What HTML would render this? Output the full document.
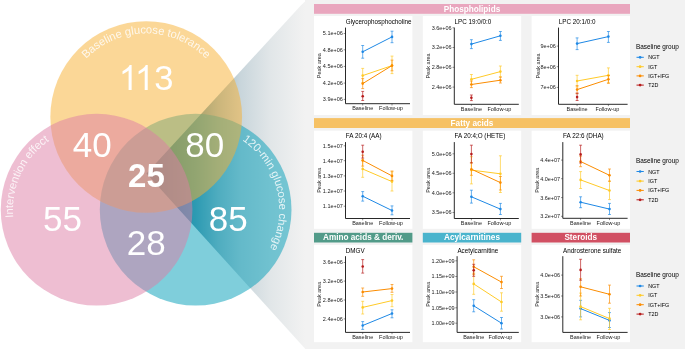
<!DOCTYPE html>
<html><head><meta charset="utf-8"><title>Figure</title>
<style>
html,body{margin:0;padding:0;background:#fff;}
body{width:685px;height:349px;overflow:hidden;}
svg{display:block;will-change:transform;transform:translateZ(0);}
text{font-family:"Liberation Sans",sans-serif;}
.tk{font-size:5.5px;fill:#1a1a1a;}
.tt{font-size:6.3px;fill:#000;}
.hd{font-size:8.2px;font-weight:bold;fill:#fff;text-anchor:middle;}
.lt{font-size:6.45px;fill:#000;}
.ll{font-size:5.4px;fill:#000;}
.vn{font-size:27px;fill:#fff;text-anchor:middle;}
.vl{font-size:11.2px;fill:#fff;fill-opacity:.82;}
</style></head><body>
<svg width="685" height="349" viewBox="0 0 685 349">
<defs>
<linearGradient id="cone" gradientUnits="userSpaceOnUse" x1="146.5" y1="0" x2="305" y2="0">
<stop offset="0" stop-color="#0a5572"/>
<stop offset="0.15" stop-color="#2a7590"/>
<stop offset="0.31" stop-color="#5a97ad"/>
<stop offset="0.45" stop-color="#9dbbc7"/>
<stop offset="0.59" stop-color="#c8d5db"/>
<stop offset="0.78" stop-color="#e1e6e8"/>
<stop offset="1" stop-color="#f2f2f2"/>
</linearGradient>
<path id="arcY" d="M 62.60 117.00 A 83.6 83.6 0 0 1 229.80 117.00"/>
<path id="arcP" d="M 61.27 285.42 A 83.6 83.6 0 0 1 131.93 133.88"/>
<path id="arcB" d="M 175.14 128.60 A 83.6 83.6 0 0 1 216.16 290.70"/>
</defs>

<path d="M 146.5 173.6 L 301.3 4.9 Q 304 2 307.5 0 L 307.5 349 L 305.4 349 Z" fill="url(#cone)"/>
<rect x="305" y="0" width="380" height="349" fill="#f2f2f2"/>
<circle cx="195.65" cy="209.65" r="95.85" fill="#009DB7" fill-opacity=".5"/>
<circle cx="146.2" cy="117" r="95.85" fill="#F7AF30" fill-opacity=".5"/>
<circle cx="96.6" cy="209.65" r="95.85" fill="#DD7DA5" fill-opacity=".5"/>
<path d="M763 0H583V1147Q518 1085 412.5 1023Q307 961 223 930V1104Q374 1175 487 1276Q600 1377 647 1472H763Z" fill="#fff" transform="translate(118.75 89.9) scale(0.01689 -0.01689)"/>
<path d="M763 0H583V1147Q518 1085 412.5 1023Q307 961 223 930V1104Q374 1175 487 1276Q600 1377 647 1472H763Z" fill="#fff" transform="translate(134.85 89.9) scale(0.01689 -0.01689)"/>
<text class="vn" x="154.2" y="89.9" style="font-size:34.6px;text-anchor:start">3</text>
<text class="vn" x="92.2" y="157.1" style="font-size:35px">40</text>
<text class="vn" x="204.7" y="157.1" style="font-size:35px">80</text>
<text class="vn" x="146.4" y="186.6" style="font-weight:bold;font-size:33px">25</text>
<text class="vn" x="62.4" y="230.6" style="font-size:35px">55</text>
<text class="vn" x="228.2" y="230.6" style="font-size:35px">85</text>
<text class="vn" x="146.2" y="254.5" style="font-size:35px">28</text>
<text class="vl"><textPath href="#arcY" startOffset="50%" text-anchor="middle">Baseline glucose tolerance</textPath></text>
<text class="vl"><textPath href="#arcP" startOffset="50%" text-anchor="middle">Intervention effect</textPath></text>
<text class="vl"><textPath href="#arcB" startOffset="50%" text-anchor="middle">120-min glucose change</textPath></text>
<rect x="314" y="4" width="316" height="9.8" fill="#E9A6BE"/>
<text class="hd" x="472.0" y="11.600000000000001">Phospholipids</text>
<rect x="314" y="118.1" width="316" height="9.900000000000006" fill="#F6C164"/>
<text class="hd" x="472.0" y="125.75">Fatty acids</text>
<rect x="314" y="232.8" width="98.39999999999998" height="9.699999999999989" fill="#529B89"/>
<text class="hd" x="363.2" y="240.35">Amino acids &amp; deriv.</text>
<rect x="422.8" y="232.8" width="98.40000000000003" height="9.699999999999989" fill="#4AB4CD"/>
<text class="hd" x="472.0" y="240.35">Acylcarnitines</text>
<rect x="531.6" y="232.8" width="98.39999999999998" height="9.699999999999989" fill="#D15063"/>
<text class="hd" x="580.8" y="240.35">Steroids</text>
<g>
<rect x="314" y="16.0" width="98.4" height="99.0" fill="#fff"/>
<svg x="314" y="16.0" width="98.4" height="99.0" viewBox="314 16.0 98.4 99.0">
<text class="tt" x="345.8" y="23.9">Glycerophosphocholine</text>
</svg>
<path d="M 345.5 27.6 V 103.7 H 410.0" fill="none" stroke="#111" stroke-width=".9"/>
<path d="M 343.7 33.5 H 345.5" stroke="#222" stroke-width=".5"/>
<text class="tk" x="342.9" y="35.4" text-anchor="end">5.1e+06</text>
<path d="M 343.7 49.8 H 345.5" stroke="#222" stroke-width=".5"/>
<text class="tk" x="342.9" y="51.699999999999996" text-anchor="end">4.8e+06</text>
<path d="M 343.7 66.4 H 345.5" stroke="#222" stroke-width=".5"/>
<text class="tk" x="342.9" y="68.30000000000001" text-anchor="end">4.5e+06</text>
<path d="M 343.7 83.1 H 345.5" stroke="#222" stroke-width=".5"/>
<text class="tk" x="342.9" y="85.0" text-anchor="end">4.2e+06</text>
<path d="M 343.7 99.4 H 345.5" stroke="#222" stroke-width=".5"/>
<text class="tk" x="342.9" y="101.30000000000001" text-anchor="end">3.9e+06</text>
<path d="M 362.7 103.7 v 1.8" stroke="#222" stroke-width=".5"/>
<text class="tk" x="362.7" y="110.3" text-anchor="middle">Baseline</text>
<path d="M 392.0 103.7 v 1.8" stroke="#222" stroke-width=".5"/>
<text class="tk" x="391.0" y="110.3" text-anchor="middle">Follow-up</text>
<text class="tk" transform="translate(321.2 65.65) rotate(-90)" text-anchor="middle">Peak area</text>
<path d="M 362.7 51.8 L 392.0 36.9" stroke="#1E88E5" stroke-width="1" fill="none"/>
<path d="M 362.7 45.5 V 58.2 M 361.25 45.5 h 2.9 M 361.25 58.2 h 2.9" stroke="#1E88E5" stroke-width=".8" stroke-opacity=".85" fill="none"/>
<circle cx="362.7" cy="51.8" r="1.3" fill="#1E88E5"/>
<path d="M 392.0 31.2 V 42.7 M 390.55 31.2 h 2.9 M 390.55 42.7 h 2.9" stroke="#1E88E5" stroke-width=".8" stroke-opacity=".85" fill="none"/>
<circle cx="392.0" cy="36.9" r="1.3" fill="#1E88E5"/>
<path d="M 362.7 75.6 L 392.0 65.6" stroke="#FFCA28" stroke-width="1" fill="none"/>
<path d="M 362.7 68.4 V 82.8 M 361.25 68.4 h 2.9 M 361.25 82.8 h 2.9" stroke="#FFCA28" stroke-width=".8" stroke-opacity=".85" fill="none"/>
<circle cx="362.7" cy="75.6" r="1.3" fill="#FFCA28"/>
<path d="M 392.0 56.1 V 73.6 M 390.55 56.1 h 2.9 M 390.55 73.6 h 2.9" stroke="#FFCA28" stroke-width=".8" stroke-opacity=".85" fill="none"/>
<circle cx="392.0" cy="65.6" r="1.3" fill="#FFCA28"/>
<path d="M 362.7 83.6 L 392.0 65.6" stroke="#FB8C00" stroke-width="1" fill="none"/>
<path d="M 362.7 78.6 V 88.6 M 361.25 78.6 h 2.9 M 361.25 88.6 h 2.9" stroke="#FB8C00" stroke-width=".8" stroke-opacity=".85" fill="none"/>
<circle cx="362.7" cy="83.6" r="1.3" fill="#FB8C00"/>
<path d="M 392.0 60.1 V 70.8 M 390.55 60.1 h 2.9 M 390.55 70.8 h 2.9" stroke="#FB8C00" stroke-width=".8" stroke-opacity=".85" fill="none"/>
<circle cx="392.0" cy="65.6" r="1.3" fill="#FB8C00"/>
<path d="M 362.7 91.4 V 100.5 M 361.25 91.4 h 2.9 M 361.25 100.5 h 2.9" stroke="#B71C1C" stroke-width=".8" stroke-opacity=".85" fill="none"/>
<circle cx="362.7" cy="96.2" r="1.3" fill="#B71C1C"/>
</g>
<g>
<rect x="422.8" y="16.0" width="98.4" height="99.0" fill="#fff"/>
<svg x="422.8" y="16.0" width="98.4" height="99.0" viewBox="422.8 16.0 98.4 99.0">
<text class="tt" x="454.6" y="23.9">LPC 19:0/0:0</text>
</svg>
<path d="M 454.3 27.6 V 104.3 H 518.8000000000001" fill="none" stroke="#111" stroke-width=".9"/>
<path d="M 452.5 27.8 H 454.3" stroke="#222" stroke-width=".5"/>
<text class="tk" x="451.7" y="29.7" text-anchor="end">3.6e+06</text>
<path d="M 452.5 47.5 H 454.3" stroke="#222" stroke-width=".5"/>
<text class="tk" x="451.7" y="49.4" text-anchor="end">3.2e+06</text>
<path d="M 452.5 67.3 H 454.3" stroke="#222" stroke-width=".5"/>
<text class="tk" x="451.7" y="69.2" text-anchor="end">2.8e+06</text>
<path d="M 452.5 87.1 H 454.3" stroke="#222" stroke-width=".5"/>
<text class="tk" x="451.7" y="89.0" text-anchor="end">2.4e+06</text>
<path d="M 471.4 104.3 v 1.8" stroke="#222" stroke-width=".5"/>
<text class="tk" x="471.4" y="110.89999999999999" text-anchor="middle">Baseline</text>
<path d="M 500.4 104.3 v 1.8" stroke="#222" stroke-width=".5"/>
<text class="tk" x="499.4" y="110.89999999999999" text-anchor="middle">Follow-up</text>
<text class="tk" transform="translate(430.0 65.95) rotate(-90)" text-anchor="middle">Peak area</text>
<path d="M 471.4 44.1 L 500.4 35.8" stroke="#1E88E5" stroke-width="1" fill="none"/>
<path d="M 471.4 39.7 V 48.6 M 469.95 39.7 h 2.9 M 469.95 48.6 h 2.9" stroke="#1E88E5" stroke-width=".8" stroke-opacity=".85" fill="none"/>
<circle cx="471.4" cy="44.1" r="1.3" fill="#1E88E5"/>
<path d="M 500.4 31.5 V 40.4 M 498.95 31.5 h 2.9 M 498.95 40.4 h 2.9" stroke="#1E88E5" stroke-width=".8" stroke-opacity=".85" fill="none"/>
<circle cx="500.4" cy="35.8" r="1.3" fill="#1E88E5"/>
<path d="M 471.4 79.3 L 500.4 71.6" stroke="#FFCA28" stroke-width="1" fill="none"/>
<path d="M 471.4 74.5 V 84.5 M 469.95 74.5 h 2.9 M 469.95 84.5 h 2.9" stroke="#FFCA28" stroke-width=".8" stroke-opacity=".85" fill="none"/>
<circle cx="471.4" cy="79.3" r="1.3" fill="#FFCA28"/>
<path d="M 500.4 66.0 V 77.0 M 498.95 66.0 h 2.9 M 498.95 77.0 h 2.9" stroke="#FFCA28" stroke-width=".8" stroke-opacity=".85" fill="none"/>
<circle cx="500.4" cy="71.6" r="1.3" fill="#FFCA28"/>
<path d="M 471.4 84.5 L 500.4 80.2" stroke="#FB8C00" stroke-width="1" fill="none"/>
<path d="M 471.4 81.0 V 87.6 M 469.95 81.0 h 2.9 M 469.95 87.6 h 2.9" stroke="#FB8C00" stroke-width=".8" stroke-opacity=".85" fill="none"/>
<circle cx="471.4" cy="84.5" r="1.3" fill="#FB8C00"/>
<path d="M 500.4 77.0 V 83.0 M 498.95 77.0 h 2.9 M 498.95 83.0 h 2.9" stroke="#FB8C00" stroke-width=".8" stroke-opacity=".85" fill="none"/>
<circle cx="500.4" cy="80.2" r="1.3" fill="#FB8C00"/>
<path d="M 471.4 95.0 V 100.6 M 469.95 95.0 h 2.9 M 469.95 100.6 h 2.9" stroke="#B71C1C" stroke-width=".8" stroke-opacity=".85" fill="none"/>
<circle cx="471.4" cy="97.8" r="1.3" fill="#B71C1C"/>
</g>
<g>
<rect x="531.6" y="16.0" width="98.4" height="99.0" fill="#fff"/>
<svg x="531.6" y="16.0" width="98.4" height="99.0" viewBox="531.6 16.0 98.4 99.0">
<text class="tt" x="558.8" y="23.9">LPC 20:1/0:0</text>
</svg>
<path d="M 558.5 27.6 V 104.3 H 627.6" fill="none" stroke="#111" stroke-width=".9"/>
<path d="M 556.7 46.1 H 558.5" stroke="#222" stroke-width=".5"/>
<text class="tk" x="555.9" y="48.0" text-anchor="end">9e+06</text>
<path d="M 556.7 66.7 H 558.5" stroke="#222" stroke-width=".5"/>
<text class="tk" x="555.9" y="68.60000000000001" text-anchor="end">8e+06</text>
<path d="M 556.7 87.4 H 558.5" stroke="#222" stroke-width=".5"/>
<text class="tk" x="555.9" y="89.30000000000001" text-anchor="end">7e+06</text>
<path d="M 577.1 104.3 v 1.8" stroke="#222" stroke-width=".5"/>
<text class="tk" x="577.1" y="110.89999999999999" text-anchor="middle">Baseline</text>
<path d="M 608.4 104.3 v 1.8" stroke="#222" stroke-width=".5"/>
<text class="tk" x="607.4" y="110.89999999999999" text-anchor="middle">Follow-up</text>
<text class="tk" transform="translate(539.9 65.95) rotate(-90)" text-anchor="middle">Peak area</text>
<path d="M 577.1 43.6 L 608.4 36.6" stroke="#1E88E5" stroke-width="1" fill="none"/>
<path d="M 577.1 37.9 V 49.6 M 575.65 37.9 h 2.9 M 575.65 49.6 h 2.9" stroke="#1E88E5" stroke-width=".8" stroke-opacity=".85" fill="none"/>
<circle cx="577.1" cy="43.6" r="1.3" fill="#1E88E5"/>
<path d="M 608.4 31.5 V 42.4 M 606.9499999999999 31.5 h 2.9 M 606.9499999999999 42.4 h 2.9" stroke="#1E88E5" stroke-width=".8" stroke-opacity=".85" fill="none"/>
<circle cx="608.4" cy="36.6" r="1.3" fill="#1E88E5"/>
<path d="M 577.1 81.0 L 608.4 75.3" stroke="#FFCA28" stroke-width="1" fill="none"/>
<path d="M 577.1 75.3 V 86.8 M 575.65 75.3 h 2.9 M 575.65 86.8 h 2.9" stroke="#FFCA28" stroke-width=".8" stroke-opacity=".85" fill="none"/>
<circle cx="577.1" cy="81.0" r="1.3" fill="#FFCA28"/>
<path d="M 608.4 67.9 V 82.8 M 606.9499999999999 67.9 h 2.9 M 606.9499999999999 82.8 h 2.9" stroke="#FFCA28" stroke-width=".8" stroke-opacity=".85" fill="none"/>
<circle cx="608.4" cy="75.3" r="1.3" fill="#FFCA28"/>
<path d="M 577.1 89.6 L 608.4 79.3" stroke="#FB8C00" stroke-width="1" fill="none"/>
<path d="M 577.1 85.6 V 93.7 M 575.65 85.6 h 2.9 M 575.65 93.7 h 2.9" stroke="#FB8C00" stroke-width=".8" stroke-opacity=".85" fill="none"/>
<circle cx="577.1" cy="89.6" r="1.3" fill="#FB8C00"/>
<path d="M 608.4 75.6 V 83.3 M 606.9499999999999 75.6 h 2.9 M 606.9499999999999 83.3 h 2.9" stroke="#FB8C00" stroke-width=".8" stroke-opacity=".85" fill="none"/>
<circle cx="608.4" cy="79.3" r="1.3" fill="#FB8C00"/>
<path d="M 577.1 93.1 V 100.5 M 575.65 93.1 h 2.9 M 575.65 100.5 h 2.9" stroke="#B71C1C" stroke-width=".8" stroke-opacity=".85" fill="none"/>
<circle cx="577.1" cy="97.1" r="1.3" fill="#B71C1C"/>
</g>
<g>
<rect x="314" y="130.7" width="98.4" height="98.10000000000002" fill="#fff"/>
<svg x="314" y="130.7" width="98.4" height="98.10000000000002" viewBox="314 130.7 98.4 98.10000000000002">
<text class="tt" x="345.8" y="138.0">FA 20:4 (AA)</text>
</svg>
<path d="M 345.5 142.1 V 218.5 H 410.0" fill="none" stroke="#111" stroke-width=".9"/>
<path d="M 343.7 145.8 H 345.5" stroke="#222" stroke-width=".5"/>
<text class="tk" x="342.9" y="147.70000000000002" text-anchor="end">1.5e+07</text>
<path d="M 343.7 160.7 H 345.5" stroke="#222" stroke-width=".5"/>
<text class="tk" x="342.9" y="162.6" text-anchor="end">1.4e+07</text>
<path d="M 343.7 175.9 H 345.5" stroke="#222" stroke-width=".5"/>
<text class="tk" x="342.9" y="177.8" text-anchor="end">1.3e+07</text>
<path d="M 343.7 191.0 H 345.5" stroke="#222" stroke-width=".5"/>
<text class="tk" x="342.9" y="192.9" text-anchor="end">1.2e+07</text>
<path d="M 343.7 206.2 H 345.5" stroke="#222" stroke-width=".5"/>
<text class="tk" x="342.9" y="208.1" text-anchor="end">1.1e+07</text>
<path d="M 362.7 218.5 v 1.8" stroke="#222" stroke-width=".5"/>
<text class="tk" x="362.7" y="225.1" text-anchor="middle">Baseline</text>
<path d="M 392.0 218.5 v 1.8" stroke="#222" stroke-width=".5"/>
<text class="tk" x="391.0" y="225.1" text-anchor="middle">Follow-up</text>
<text class="tk" transform="translate(321.2 180.3) rotate(-90)" text-anchor="middle">Peak area</text>
<path d="M 362.7 196.2 L 392.0 210.5" stroke="#1E88E5" stroke-width="1" fill="none"/>
<path d="M 362.7 191.6 V 201.1 M 361.25 191.6 h 2.9 M 361.25 201.1 h 2.9" stroke="#1E88E5" stroke-width=".8" stroke-opacity=".85" fill="none"/>
<circle cx="362.7" cy="196.2" r="1.3" fill="#1E88E5"/>
<path d="M 392.0 205.9 V 214.8 M 390.55 205.9 h 2.9 M 390.55 214.8 h 2.9" stroke="#1E88E5" stroke-width=".8" stroke-opacity=".85" fill="none"/>
<circle cx="392.0" cy="210.5" r="1.3" fill="#1E88E5"/>
<path d="M 362.7 169.0 L 392.0 181.6" stroke="#FFCA28" stroke-width="1" fill="none"/>
<path d="M 362.7 160.4 V 177.3 M 361.25 160.4 h 2.9 M 361.25 177.3 h 2.9" stroke="#FFCA28" stroke-width=".8" stroke-opacity=".85" fill="none"/>
<circle cx="362.7" cy="169.0" r="1.3" fill="#FFCA28"/>
<path d="M 392.0 171.8 V 191.0 M 390.55 171.8 h 2.9 M 390.55 191.0 h 2.9" stroke="#FFCA28" stroke-width=".8" stroke-opacity=".85" fill="none"/>
<circle cx="392.0" cy="181.6" r="1.3" fill="#FFCA28"/>
<path d="M 362.7 160.4 L 392.0 175.9" stroke="#FB8C00" stroke-width="1" fill="none"/>
<path d="M 362.7 155.2 V 166.1 M 361.25 155.2 h 2.9 M 361.25 166.1 h 2.9" stroke="#FB8C00" stroke-width=".8" stroke-opacity=".85" fill="none"/>
<circle cx="362.7" cy="160.4" r="1.3" fill="#FB8C00"/>
<path d="M 392.0 171.0 V 180.4 M 390.55 171.0 h 2.9 M 390.55 180.4 h 2.9" stroke="#FB8C00" stroke-width=".8" stroke-opacity=".85" fill="none"/>
<circle cx="392.0" cy="175.9" r="1.3" fill="#FB8C00"/>
<path d="M 362.7 145.2 V 158.1 M 361.25 145.2 h 2.9 M 361.25 158.1 h 2.9" stroke="#B71C1C" stroke-width=".8" stroke-opacity=".85" fill="none"/>
<circle cx="362.7" cy="151.8" r="1.3" fill="#B71C1C"/>
</g>
<g>
<rect x="422.8" y="130.7" width="98.4" height="98.10000000000002" fill="#fff"/>
<svg x="422.8" y="130.7" width="98.4" height="98.10000000000002" viewBox="422.8 130.7 98.4 98.10000000000002">
<text class="tt" x="454.6" y="138.0">FA 20:4;O (HETE)</text>
</svg>
<path d="M 454.3 142.1 V 218.5 H 518.8000000000001" fill="none" stroke="#111" stroke-width=".9"/>
<path d="M 452.5 153.8 H 454.3" stroke="#222" stroke-width=".5"/>
<text class="tk" x="451.7" y="155.70000000000002" text-anchor="end">5.0e+06</text>
<path d="M 452.5 173.3 H 454.3" stroke="#222" stroke-width=".5"/>
<text class="tk" x="451.7" y="175.20000000000002" text-anchor="end">4.5e+06</text>
<path d="M 452.5 192.8 H 454.3" stroke="#222" stroke-width=".5"/>
<text class="tk" x="451.7" y="194.70000000000002" text-anchor="end">4.0e+06</text>
<path d="M 452.5 212.5 H 454.3" stroke="#222" stroke-width=".5"/>
<text class="tk" x="451.7" y="214.4" text-anchor="end">3.5e+06</text>
<path d="M 471.4 218.5 v 1.8" stroke="#222" stroke-width=".5"/>
<text class="tk" x="471.4" y="225.1" text-anchor="middle">Baseline</text>
<path d="M 500.4 218.5 v 1.8" stroke="#222" stroke-width=".5"/>
<text class="tk" x="499.4" y="225.1" text-anchor="middle">Follow-up</text>
<text class="tk" transform="translate(430.0 180.3) rotate(-90)" text-anchor="middle">Peak area</text>
<path d="M 471.4 196.8 L 500.4 209.1" stroke="#1E88E5" stroke-width="1" fill="none"/>
<path d="M 471.4 190.2 V 203.1 M 469.95 190.2 h 2.9 M 469.95 203.1 h 2.9" stroke="#1E88E5" stroke-width=".8" stroke-opacity=".85" fill="none"/>
<circle cx="471.4" cy="196.8" r="1.3" fill="#1E88E5"/>
<path d="M 500.4 203.4 V 214.5 M 498.95 203.4 h 2.9 M 498.95 214.5 h 2.9" stroke="#1E88E5" stroke-width=".8" stroke-opacity=".85" fill="none"/>
<circle cx="500.4" cy="209.1" r="1.3" fill="#1E88E5"/>
<path d="M 471.4 170.1 L 500.4 173.8" stroke="#FFCA28" stroke-width="1" fill="none"/>
<path d="M 471.4 156.7 V 183.9 M 469.95 156.7 h 2.9 M 469.95 183.9 h 2.9" stroke="#FFCA28" stroke-width=".8" stroke-opacity=".85" fill="none"/>
<circle cx="471.4" cy="170.1" r="1.3" fill="#FFCA28"/>
<path d="M 500.4 155.8 V 192.5 M 498.95 155.8 h 2.9 M 498.95 192.5 h 2.9" stroke="#FFCA28" stroke-width=".8" stroke-opacity=".85" fill="none"/>
<circle cx="500.4" cy="173.8" r="1.3" fill="#FFCA28"/>
<path d="M 471.4 169.2 L 500.4 182.6" stroke="#FB8C00" stroke-width="1" fill="none"/>
<path d="M 471.4 162.6 V 175.3 M 469.95 162.6 h 2.9 M 469.95 175.3 h 2.9" stroke="#FB8C00" stroke-width=".8" stroke-opacity=".85" fill="none"/>
<circle cx="471.4" cy="169.2" r="1.3" fill="#FB8C00"/>
<path d="M 500.4 176.5 V 190.0 M 498.95 176.5 h 2.9 M 498.95 190.0 h 2.9" stroke="#FB8C00" stroke-width=".8" stroke-opacity=".85" fill="none"/>
<circle cx="500.4" cy="182.6" r="1.3" fill="#FB8C00"/>
<path d="M 471.4 145.2 V 163.0 M 469.95 145.2 h 2.9 M 469.95 163.0 h 2.9" stroke="#B71C1C" stroke-width=".8" stroke-opacity=".85" fill="none"/>
<circle cx="471.4" cy="154.1" r="1.3" fill="#B71C1C"/>
</g>
<g>
<rect x="531.6" y="130.7" width="98.4" height="98.10000000000002" fill="#fff"/>
<svg x="531.6" y="130.7" width="98.4" height="98.10000000000002" viewBox="531.6 130.7 98.4 98.10000000000002">
<text class="tt" x="563.0999999999999" y="138.0">FA 22:6 (DHA)</text>
</svg>
<path d="M 562.8 142.1 V 218.3 H 627.6" fill="none" stroke="#111" stroke-width=".9"/>
<path d="M 561.0 160.1 H 562.8" stroke="#222" stroke-width=".5"/>
<text class="tk" x="560.1999999999999" y="162.0" text-anchor="end">4.4e+07</text>
<path d="M 561.0 178.7 H 562.8" stroke="#222" stroke-width=".5"/>
<text class="tk" x="560.1999999999999" y="180.6" text-anchor="end">4.0e+07</text>
<path d="M 561.0 197.6 H 562.8" stroke="#222" stroke-width=".5"/>
<text class="tk" x="560.1999999999999" y="199.5" text-anchor="end">3.6e+07</text>
<path d="M 561.0 216.3 H 562.8" stroke="#222" stroke-width=".5"/>
<text class="tk" x="560.1999999999999" y="218.20000000000002" text-anchor="end">3.2e+07</text>
<path d="M 580.6 218.3 v 1.8" stroke="#222" stroke-width=".5"/>
<text class="tk" x="580.6" y="224.9" text-anchor="middle">Baseline</text>
<path d="M 609.5 218.3 v 1.8" stroke="#222" stroke-width=".5"/>
<text class="tk" x="608.5" y="224.9" text-anchor="middle">Follow-up</text>
<text class="tk" transform="translate(538.8000000000001 180.2) rotate(-90)" text-anchor="middle">Peak area</text>
<path d="M 580.6 202.2 L 609.5 209.1" stroke="#1E88E5" stroke-width="1" fill="none"/>
<path d="M 580.6 196.8 V 207.7 M 579.15 196.8 h 2.9 M 579.15 207.7 h 2.9" stroke="#1E88E5" stroke-width=".8" stroke-opacity=".85" fill="none"/>
<circle cx="580.6" cy="202.2" r="1.3" fill="#1E88E5"/>
<path d="M 609.5 203.4 V 214.5 M 608.05 203.4 h 2.9 M 608.05 214.5 h 2.9" stroke="#1E88E5" stroke-width=".8" stroke-opacity=".85" fill="none"/>
<circle cx="609.5" cy="209.1" r="1.3" fill="#1E88E5"/>
<path d="M 580.6 179.9 L 609.5 190.5" stroke="#FFCA28" stroke-width="1" fill="none"/>
<path d="M 580.6 171.6 V 188.5 M 579.15 171.6 h 2.9 M 579.15 188.5 h 2.9" stroke="#FFCA28" stroke-width=".8" stroke-opacity=".85" fill="none"/>
<circle cx="580.6" cy="179.9" r="1.3" fill="#FFCA28"/>
<path d="M 609.5 181.0 V 199.6 M 608.05 181.0 h 2.9 M 608.05 199.6 h 2.9" stroke="#FFCA28" stroke-width=".8" stroke-opacity=".85" fill="none"/>
<circle cx="609.5" cy="190.5" r="1.3" fill="#FFCA28"/>
<path d="M 580.6 161.5 L 609.5 175.3" stroke="#FB8C00" stroke-width="1" fill="none"/>
<path d="M 580.6 156.1 V 166.7 M 579.15 156.1 h 2.9 M 579.15 166.7 h 2.9" stroke="#FB8C00" stroke-width=".8" stroke-opacity=".85" fill="none"/>
<circle cx="580.6" cy="161.5" r="1.3" fill="#FB8C00"/>
<path d="M 609.5 169.0 V 181.3 M 608.05 169.0 h 2.9 M 608.05 181.3 h 2.9" stroke="#FB8C00" stroke-width=".8" stroke-opacity=".85" fill="none"/>
<circle cx="609.5" cy="175.3" r="1.3" fill="#FB8C00"/>
<path d="M 580.6 145.2 V 163.0 M 579.15 145.2 h 2.9 M 579.15 163.0 h 2.9" stroke="#B71C1C" stroke-width=".8" stroke-opacity=".85" fill="none"/>
<circle cx="580.6" cy="154.4" r="1.3" fill="#B71C1C"/>
</g>
<g>
<rect x="314" y="244.9" width="98.4" height="97.29999999999998" fill="#fff"/>
<svg x="314" y="244.9" width="98.4" height="97.29999999999998" viewBox="314 244.9 98.4 97.29999999999998">
<text class="tt" x="345.8" y="252.7">DMGV</text>
</svg>
<path d="M 345.5 256.2 V 332.4 H 410.0" fill="none" stroke="#111" stroke-width=".9"/>
<path d="M 343.7 262.5 H 345.5" stroke="#222" stroke-width=".5"/>
<text class="tk" x="342.9" y="264.4" text-anchor="end">3.6e+06</text>
<path d="M 343.7 281.1 H 345.5" stroke="#222" stroke-width=".5"/>
<text class="tk" x="342.9" y="283.0" text-anchor="end">3.2e+06</text>
<path d="M 343.7 300.0 H 345.5" stroke="#222" stroke-width=".5"/>
<text class="tk" x="342.9" y="301.9" text-anchor="end">2.8e+06</text>
<path d="M 343.7 318.9 H 345.5" stroke="#222" stroke-width=".5"/>
<text class="tk" x="342.9" y="320.79999999999995" text-anchor="end">2.4e+06</text>
<path d="M 362.7 332.4 v 1.8" stroke="#222" stroke-width=".5"/>
<text class="tk" x="362.7" y="339.0" text-anchor="middle">Baseline</text>
<path d="M 392.0 332.4 v 1.8" stroke="#222" stroke-width=".5"/>
<text class="tk" x="391.0" y="339.0" text-anchor="middle">Follow-up</text>
<text class="tk" transform="translate(321.2 294.29999999999995) rotate(-90)" text-anchor="middle">Peak area</text>
<path d="M 362.7 325.5 L 392.0 313.5" stroke="#1E88E5" stroke-width="1" fill="none"/>
<path d="M 362.7 321.6 V 329.4 M 361.25 321.6 h 2.9 M 361.25 329.4 h 2.9" stroke="#1E88E5" stroke-width=".8" stroke-opacity=".85" fill="none"/>
<circle cx="362.7" cy="325.5" r="1.3" fill="#1E88E5"/>
<path d="M 392.0 309.8 V 317.8 M 390.55 309.8 h 2.9 M 390.55 317.8 h 2.9" stroke="#1E88E5" stroke-width=".8" stroke-opacity=".85" fill="none"/>
<circle cx="392.0" cy="313.5" r="1.3" fill="#1E88E5"/>
<path d="M 362.7 307.4 L 392.0 300.6" stroke="#FFCA28" stroke-width="1" fill="none"/>
<path d="M 362.7 301.3 V 314.0 M 361.25 301.3 h 2.9 M 361.25 314.0 h 2.9" stroke="#FFCA28" stroke-width=".8" stroke-opacity=".85" fill="none"/>
<circle cx="362.7" cy="307.4" r="1.3" fill="#FFCA28"/>
<path d="M 392.0 294.5 V 306.7 M 390.55 294.5 h 2.9 M 390.55 306.7 h 2.9" stroke="#FFCA28" stroke-width=".8" stroke-opacity=".85" fill="none"/>
<circle cx="392.0" cy="300.6" r="1.3" fill="#FFCA28"/>
<path d="M 362.7 292.0 L 392.0 288.6" stroke="#FB8C00" stroke-width="1" fill="none"/>
<path d="M 362.7 288.0 V 296.3 M 361.25 288.0 h 2.9 M 361.25 296.3 h 2.9" stroke="#FB8C00" stroke-width=".8" stroke-opacity=".85" fill="none"/>
<circle cx="362.7" cy="292.0" r="1.3" fill="#FB8C00"/>
<path d="M 392.0 284.5 V 292.3 M 390.55 284.5 h 2.9 M 390.55 292.3 h 2.9" stroke="#FB8C00" stroke-width=".8" stroke-opacity=".85" fill="none"/>
<circle cx="392.0" cy="288.6" r="1.3" fill="#FB8C00"/>
<path d="M 362.7 259.6 V 273.1 M 361.25 259.6 h 2.9 M 361.25 273.1 h 2.9" stroke="#B71C1C" stroke-width=".8" stroke-opacity=".85" fill="none"/>
<circle cx="362.7" cy="266.5" r="1.3" fill="#B71C1C"/>
</g>
<g>
<rect x="422.8" y="244.9" width="98.4" height="97.29999999999998" fill="#fff"/>
<svg x="422.8" y="244.9" width="98.4" height="97.29999999999998" viewBox="422.8 244.9 98.4 97.29999999999998">
<text class="tt" x="457.40000000000003" y="252.7">Acetylcarnitine</text>
</svg>
<path d="M 457.1 256.2 V 332.4 H 518.8000000000001" fill="none" stroke="#111" stroke-width=".9"/>
<path d="M 455.3 260.8 H 457.1" stroke="#222" stroke-width=".5"/>
<text class="tk" x="454.5" y="262.7" text-anchor="end">1.20e+09</text>
<path d="M 455.3 276.5 H 457.1" stroke="#222" stroke-width=".5"/>
<text class="tk" x="454.5" y="278.4" text-anchor="end">1.15e+09</text>
<path d="M 455.3 292.0 H 457.1" stroke="#222" stroke-width=".5"/>
<text class="tk" x="454.5" y="293.9" text-anchor="end">1.10e+09</text>
<path d="M 455.3 307.8 H 457.1" stroke="#222" stroke-width=".5"/>
<text class="tk" x="454.5" y="309.7" text-anchor="end">1.05e+09</text>
<path d="M 455.3 323.2 H 457.1" stroke="#222" stroke-width=".5"/>
<text class="tk" x="454.5" y="325.09999999999997" text-anchor="end">1.00e+09</text>
<path d="M 473.7 332.4 v 1.8" stroke="#222" stroke-width=".5"/>
<text class="tk" x="473.7" y="339.0" text-anchor="middle">Baseline</text>
<path d="M 501.5 332.4 v 1.8" stroke="#222" stroke-width=".5"/>
<text class="tk" x="500.5" y="339.0" text-anchor="middle">Follow-up</text>
<text class="tk" transform="translate(430.0 294.29999999999995) rotate(-90)" text-anchor="middle">Peak area</text>
<path d="M 473.7 305.8 L 501.5 323.2" stroke="#1E88E5" stroke-width="1" fill="none"/>
<path d="M 473.7 299.7 V 311.8 M 472.25 299.7 h 2.9 M 472.25 311.8 h 2.9" stroke="#1E88E5" stroke-width=".8" stroke-opacity=".85" fill="none"/>
<circle cx="473.7" cy="305.8" r="1.3" fill="#1E88E5"/>
<path d="M 501.5 317.5 V 329.0 M 500.05 317.5 h 2.9 M 500.05 329.0 h 2.9" stroke="#1E88E5" stroke-width=".8" stroke-opacity=".85" fill="none"/>
<circle cx="501.5" cy="323.2" r="1.3" fill="#1E88E5"/>
<path d="M 473.7 283.9 L 501.5 302.0" stroke="#FFCA28" stroke-width="1" fill="none"/>
<path d="M 473.7 273.2 V 294.3 M 472.25 273.2 h 2.9 M 472.25 294.3 h 2.9" stroke="#FFCA28" stroke-width=".8" stroke-opacity=".85" fill="none"/>
<circle cx="473.7" cy="283.9" r="1.3" fill="#FFCA28"/>
<path d="M 501.5 292.8 V 311.2 M 500.05 292.8 h 2.9 M 500.05 311.2 h 2.9" stroke="#FFCA28" stroke-width=".8" stroke-opacity=".85" fill="none"/>
<circle cx="501.5" cy="302.0" r="1.3" fill="#FFCA28"/>
<path d="M 473.7 266.7 L 501.5 282.1" stroke="#FB8C00" stroke-width="1" fill="none"/>
<path d="M 473.7 259.8 V 274.3 M 472.25 259.8 h 2.9 M 472.25 274.3 h 2.9" stroke="#FB8C00" stroke-width=".8" stroke-opacity=".85" fill="none"/>
<circle cx="473.7" cy="266.7" r="1.3" fill="#FB8C00"/>
<path d="M 501.5 276.3 V 288.5 M 500.05 276.3 h 2.9 M 500.05 288.5 h 2.9" stroke="#FB8C00" stroke-width=".8" stroke-opacity=".85" fill="none"/>
<circle cx="501.5" cy="282.1" r="1.3" fill="#FB8C00"/>
<path d="M 473.7 264.3 V 276.3 M 472.25 264.3 h 2.9 M 472.25 276.3 h 2.9" stroke="#B71C1C" stroke-width=".8" stroke-opacity=".85" fill="none"/>
<circle cx="473.7" cy="270.2" r="1.3" fill="#B71C1C"/>
</g>
<g>
<rect x="531.6" y="244.9" width="98.4" height="97.29999999999998" fill="#fff"/>
<svg x="531.6" y="244.9" width="98.4" height="97.29999999999998" viewBox="531.6 244.9 98.4 97.29999999999998">
<text class="tt" x="563.0999999999999" y="252.7">Androsterone sulfate</text>
</svg>
<path d="M 562.8 256.2 V 332.4 H 627.6" fill="none" stroke="#111" stroke-width=".9"/>
<path d="M 561.0 275.1 H 562.8" stroke="#222" stroke-width=".5"/>
<text class="tk" x="560.1999999999999" y="277.0" text-anchor="end">4.0e+06</text>
<path d="M 561.0 296.0 H 562.8" stroke="#222" stroke-width=".5"/>
<text class="tk" x="560.1999999999999" y="297.9" text-anchor="end">3.5e+06</text>
<path d="M 561.0 316.9 H 562.8" stroke="#222" stroke-width=".5"/>
<text class="tk" x="560.1999999999999" y="318.79999999999995" text-anchor="end">3.0e+06</text>
<path d="M 580.6 332.4 v 1.8" stroke="#222" stroke-width=".5"/>
<text class="tk" x="580.6" y="339.0" text-anchor="middle">Baseline</text>
<path d="M 609.5 332.4 v 1.8" stroke="#222" stroke-width=".5"/>
<text class="tk" x="608.5" y="339.0" text-anchor="middle">Follow-up</text>
<text class="tk" transform="translate(538.8000000000001 294.29999999999995) rotate(-90)" text-anchor="middle">Peak area</text>
<path d="M 580.6 308.6 L 609.5 320.4" stroke="#1E88E5" stroke-width="1" fill="none"/>
<path d="M 580.6 300.3 V 316.9 M 579.15 300.3 h 2.9 M 579.15 316.9 h 2.9" stroke="#1E88E5" stroke-width=".8" stroke-opacity=".85" fill="none"/>
<circle cx="580.6" cy="308.6" r="1.3" fill="#1E88E5"/>
<path d="M 609.5 312.6 V 327.5 M 608.05 312.6 h 2.9 M 608.05 327.5 h 2.9" stroke="#1E88E5" stroke-width=".8" stroke-opacity=".85" fill="none"/>
<circle cx="609.5" cy="320.4" r="1.3" fill="#1E88E5"/>
<path d="M 580.6 306.6 L 609.5 318.6" stroke="#FFCA28" stroke-width="1" fill="none"/>
<path d="M 580.6 293.1 V 319.8 M 579.15 293.1 h 2.9 M 579.15 319.8 h 2.9" stroke="#FFCA28" stroke-width=".8" stroke-opacity=".85" fill="none"/>
<circle cx="580.6" cy="306.6" r="1.3" fill="#FFCA28"/>
<path d="M 609.5 308.3 V 329.5 M 608.05 308.3 h 2.9 M 608.05 329.5 h 2.9" stroke="#FFCA28" stroke-width=".8" stroke-opacity=".85" fill="none"/>
<circle cx="609.5" cy="318.6" r="1.3" fill="#FFCA28"/>
<path d="M 580.6 286.8 L 609.5 294.3" stroke="#FB8C00" stroke-width="1" fill="none"/>
<path d="M 580.6 278.8 V 296.0 M 579.15 278.8 h 2.9 M 579.15 296.0 h 2.9" stroke="#FB8C00" stroke-width=".8" stroke-opacity=".85" fill="none"/>
<circle cx="580.6" cy="286.8" r="1.3" fill="#FB8C00"/>
<path d="M 609.5 285.1 V 303.2 M 608.05 285.1 h 2.9 M 608.05 303.2 h 2.9" stroke="#FB8C00" stroke-width=".8" stroke-opacity=".85" fill="none"/>
<circle cx="609.5" cy="294.3" r="1.3" fill="#FB8C00"/>
<path d="M 580.6 259.3 V 280.2 M 579.15 259.3 h 2.9 M 579.15 280.2 h 2.9" stroke="#B71C1C" stroke-width=".8" stroke-opacity=".85" fill="none"/>
<circle cx="580.6" cy="269.9" r="1.3" fill="#B71C1C"/>
</g>
<text class="lt" x="635.9" y="48.9">Baseline group</text>
<path d="M 636.5 57.3 H 643.8" stroke="#1E88E5" stroke-width="1"/>
<circle cx="640.1" cy="57.3" r="1.35" fill="#1E88E5"/>
<text class="ll" x="648.2" y="59.3">NGT</text>
<path d="M 636.5 66.7 H 643.8" stroke="#FFCA28" stroke-width="1"/>
<circle cx="640.1" cy="66.7" r="1.35" fill="#FFCA28"/>
<text class="ll" x="648.2" y="68.7">IGT</text>
<path d="M 636.5 75.9 H 643.8" stroke="#FB8C00" stroke-width="1"/>
<circle cx="640.1" cy="75.9" r="1.35" fill="#FB8C00"/>
<text class="ll" x="648.2" y="77.9">IGT+IFG</text>
<path d="M 636.5 85.1 H 643.8" stroke="#B71C1C" stroke-width="1"/>
<circle cx="640.1" cy="85.1" r="1.35" fill="#B71C1C"/>
<text class="ll" x="648.2" y="87.1">T2D</text>
<text class="lt" x="635.9" y="162.7">Baseline group</text>
<path d="M 636.5 171.5 H 643.8" stroke="#1E88E5" stroke-width="1"/>
<circle cx="640.1" cy="171.5" r="1.35" fill="#1E88E5"/>
<text class="ll" x="648.2" y="173.5">NGT</text>
<path d="M 636.5 181.1 H 643.8" stroke="#FFCA28" stroke-width="1"/>
<circle cx="640.1" cy="181.1" r="1.35" fill="#FFCA28"/>
<text class="ll" x="648.2" y="183.1">IGT</text>
<path d="M 636.5 190.4 H 643.8" stroke="#FB8C00" stroke-width="1"/>
<circle cx="640.1" cy="190.4" r="1.35" fill="#FB8C00"/>
<text class="ll" x="648.2" y="192.4">IGT+IFG</text>
<path d="M 636.5 199.8 H 643.8" stroke="#B71C1C" stroke-width="1"/>
<circle cx="640.1" cy="199.8" r="1.35" fill="#B71C1C"/>
<text class="ll" x="648.2" y="201.8">T2D</text>
<text class="lt" x="635.9" y="277.3">Baseline group</text>
<path d="M 636.5 286.0 H 643.8" stroke="#1E88E5" stroke-width="1"/>
<circle cx="640.1" cy="286.0" r="1.35" fill="#1E88E5"/>
<text class="ll" x="648.2" y="288.0">NGT</text>
<path d="M 636.5 295.3 H 643.8" stroke="#FFCA28" stroke-width="1"/>
<circle cx="640.1" cy="295.3" r="1.35" fill="#FFCA28"/>
<text class="ll" x="648.2" y="297.3">IGT</text>
<path d="M 636.5 304.7 H 643.8" stroke="#FB8C00" stroke-width="1"/>
<circle cx="640.1" cy="304.7" r="1.35" fill="#FB8C00"/>
<text class="ll" x="648.2" y="306.7">IGT+IFG</text>
<path d="M 636.5 314.1 H 643.8" stroke="#B71C1C" stroke-width="1"/>
<circle cx="640.1" cy="314.1" r="1.35" fill="#B71C1C"/>
<text class="ll" x="648.2" y="316.1">T2D</text>
</svg></body></html>
